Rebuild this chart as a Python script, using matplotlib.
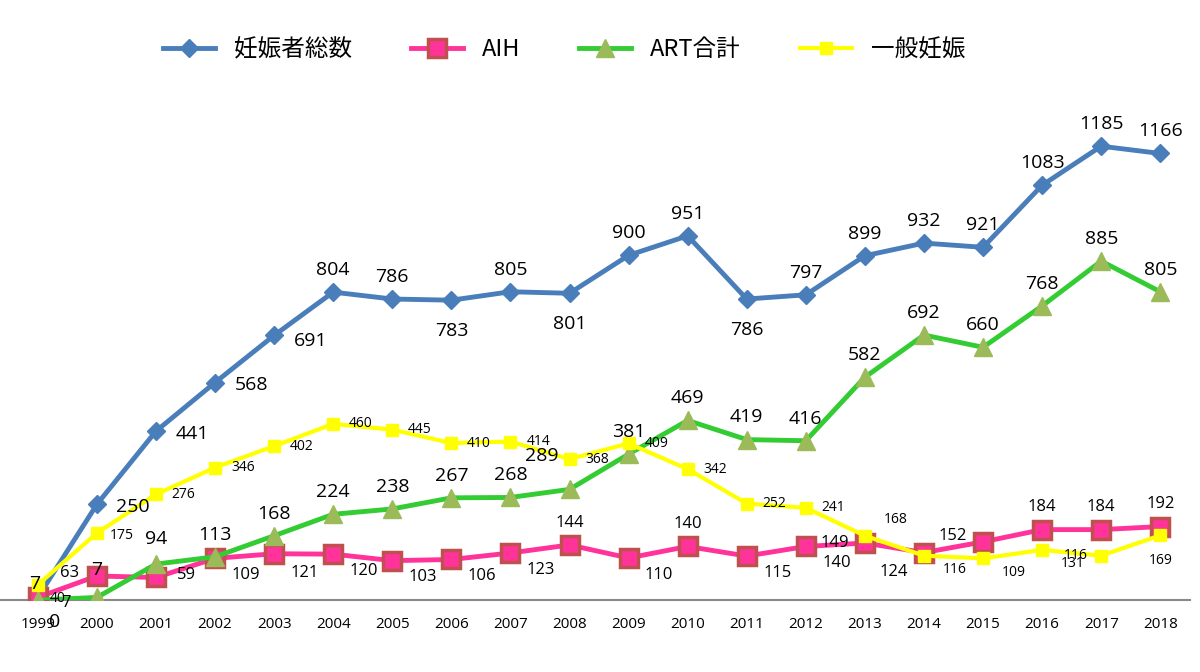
import matplotlib.pyplot as plt

plt.rcParams['font.family'] = ['Noto Sans CJK JP', 'DejaVu Sans']
NUM_FONT = ['Open Sans', 'DejaVu Sans']

years = list(range(1999, 2019))
total = [7, 250, 441, 568, 691, 804, 786, 783, 805, 801, 900, 951, 786, 797, 899, 932, 921, 1083, 1185, 1166]
aih = [7, 63, 59, 109, 121, 120, 103, 106, 123, 144, 110, 140, 115, 140, 149, 124, 152, 184, 184, 192]
art = [0, 7, 94, 113, 168, 224, 238, 267, 268, 289, 381, 469, 419, 416, 582, 692, 660, 768, 885, 805]
general = [40, 175, 276, 346, 402, 460, 445, 410, 414, 368, 409, 342, 252, 241, 168, 116, 109, 131, 116, 169]

# label offsets (points) per point, roughly as in the original
total_off = [(0, 16)] * 20
total_off[0] = (-2, 10)
total_off[1] = (26, -2)
total_off[2] = (26, -2)
total_off[3] = (26, -2)
total_off[4] = (26, -4)
for i in (7, 9, 12):
    total_off[i] = (0, -22)
aih_off = [(0, 10), (-20, 2), (22, 2)] + [(22, -12)] * 17
for i in (9, 11, 16, 17, 18, 19):
    aih_off[i] = (0, 16)
aih_off[0] = (20, -4)
aih_off[4] = (22, -14)
aih_off[13] = (22, -12)
aih_off[14] = (-22, 0)
aih_off[15] = (-22, -14)
aih_off[16] = (-22, 4)
art_off = [(12, -16), (-2, 18)] + [(0, 16)] * 18
art_off[1] = (0, 20)
art_off[2] = (0, 18)
art_off[9] = (-20, 24)
gen_off = [(14, -10)] + [(20, 0)] * 19
gen_off[1] = (18, -2)
gen_off[14] = (22, 12)
for i in (15, 16, 17):
    gen_off[i] = (22, -10)
gen_off[18] = (-18, 0)
gen_off[19] = (0, -18)

fig = plt.figure(figsize=(12, 6.72), dpi=100)
ax = fig.add_axes([0.0, 0.107, 0.992, 0.798])

ax.plot(years, total, color='#4a7ebb', lw=3.5, marker='D', ms=9, label='妊娠者総数', zorder=3)
ax.plot(years, aih, color='#ff3399', lw=3.5, marker='s', ms=13, mfc='#ff3399',
        mec='#c0504d', mew=2.5, label='AIH', zorder=4)
ax.plot(years, art, color='#33cc33', lw=3.5, marker='^', ms=13, mfc='#9bbb59',
        mec='#9bbb59', label='ART合計', zorder=5)
ax.plot(years, general, color='#ffff00', lw=3, marker='s', ms=9, label='一般妊娠', zorder=6)


def add_labels(vals, offs, size):
    for x, v, o in zip(years, vals, offs):
        ax.annotate(str(v), (x, v), xytext=o, textcoords='offset points',
                    ha='center', va='center', fontsize=size, family=NUM_FONT, zorder=10)


add_labels(total, total_off, 14)
add_labels(art, art_off, 14)
add_labels(aih, aih_off, 12)
add_labels(general, gen_off, 10)

ax.set_xlim(1998.36, 2018.51)
ax.set_ylim(0, 1400)
ax.set_xticks(years)
ax.tick_params(axis='x', length=0, labelsize=11, pad=12)
for t in ax.get_xticklabels():
    t.set_family(NUM_FONT)
ax.set_yticks([])
for s in ('top', 'right', 'left'):
    ax.spines[s].set_visible(False)
ax.spines['bottom'].set_color('#888888')
ax.spines['bottom'].set_linewidth(1.5)

fig.legend(loc='upper center', bbox_to_anchor=(0.47, 0.975), ncol=4, frameon=False,
           fontsize=17, handlelength=2.2, columnspacing=2.5)

fig.savefig('out.png')
